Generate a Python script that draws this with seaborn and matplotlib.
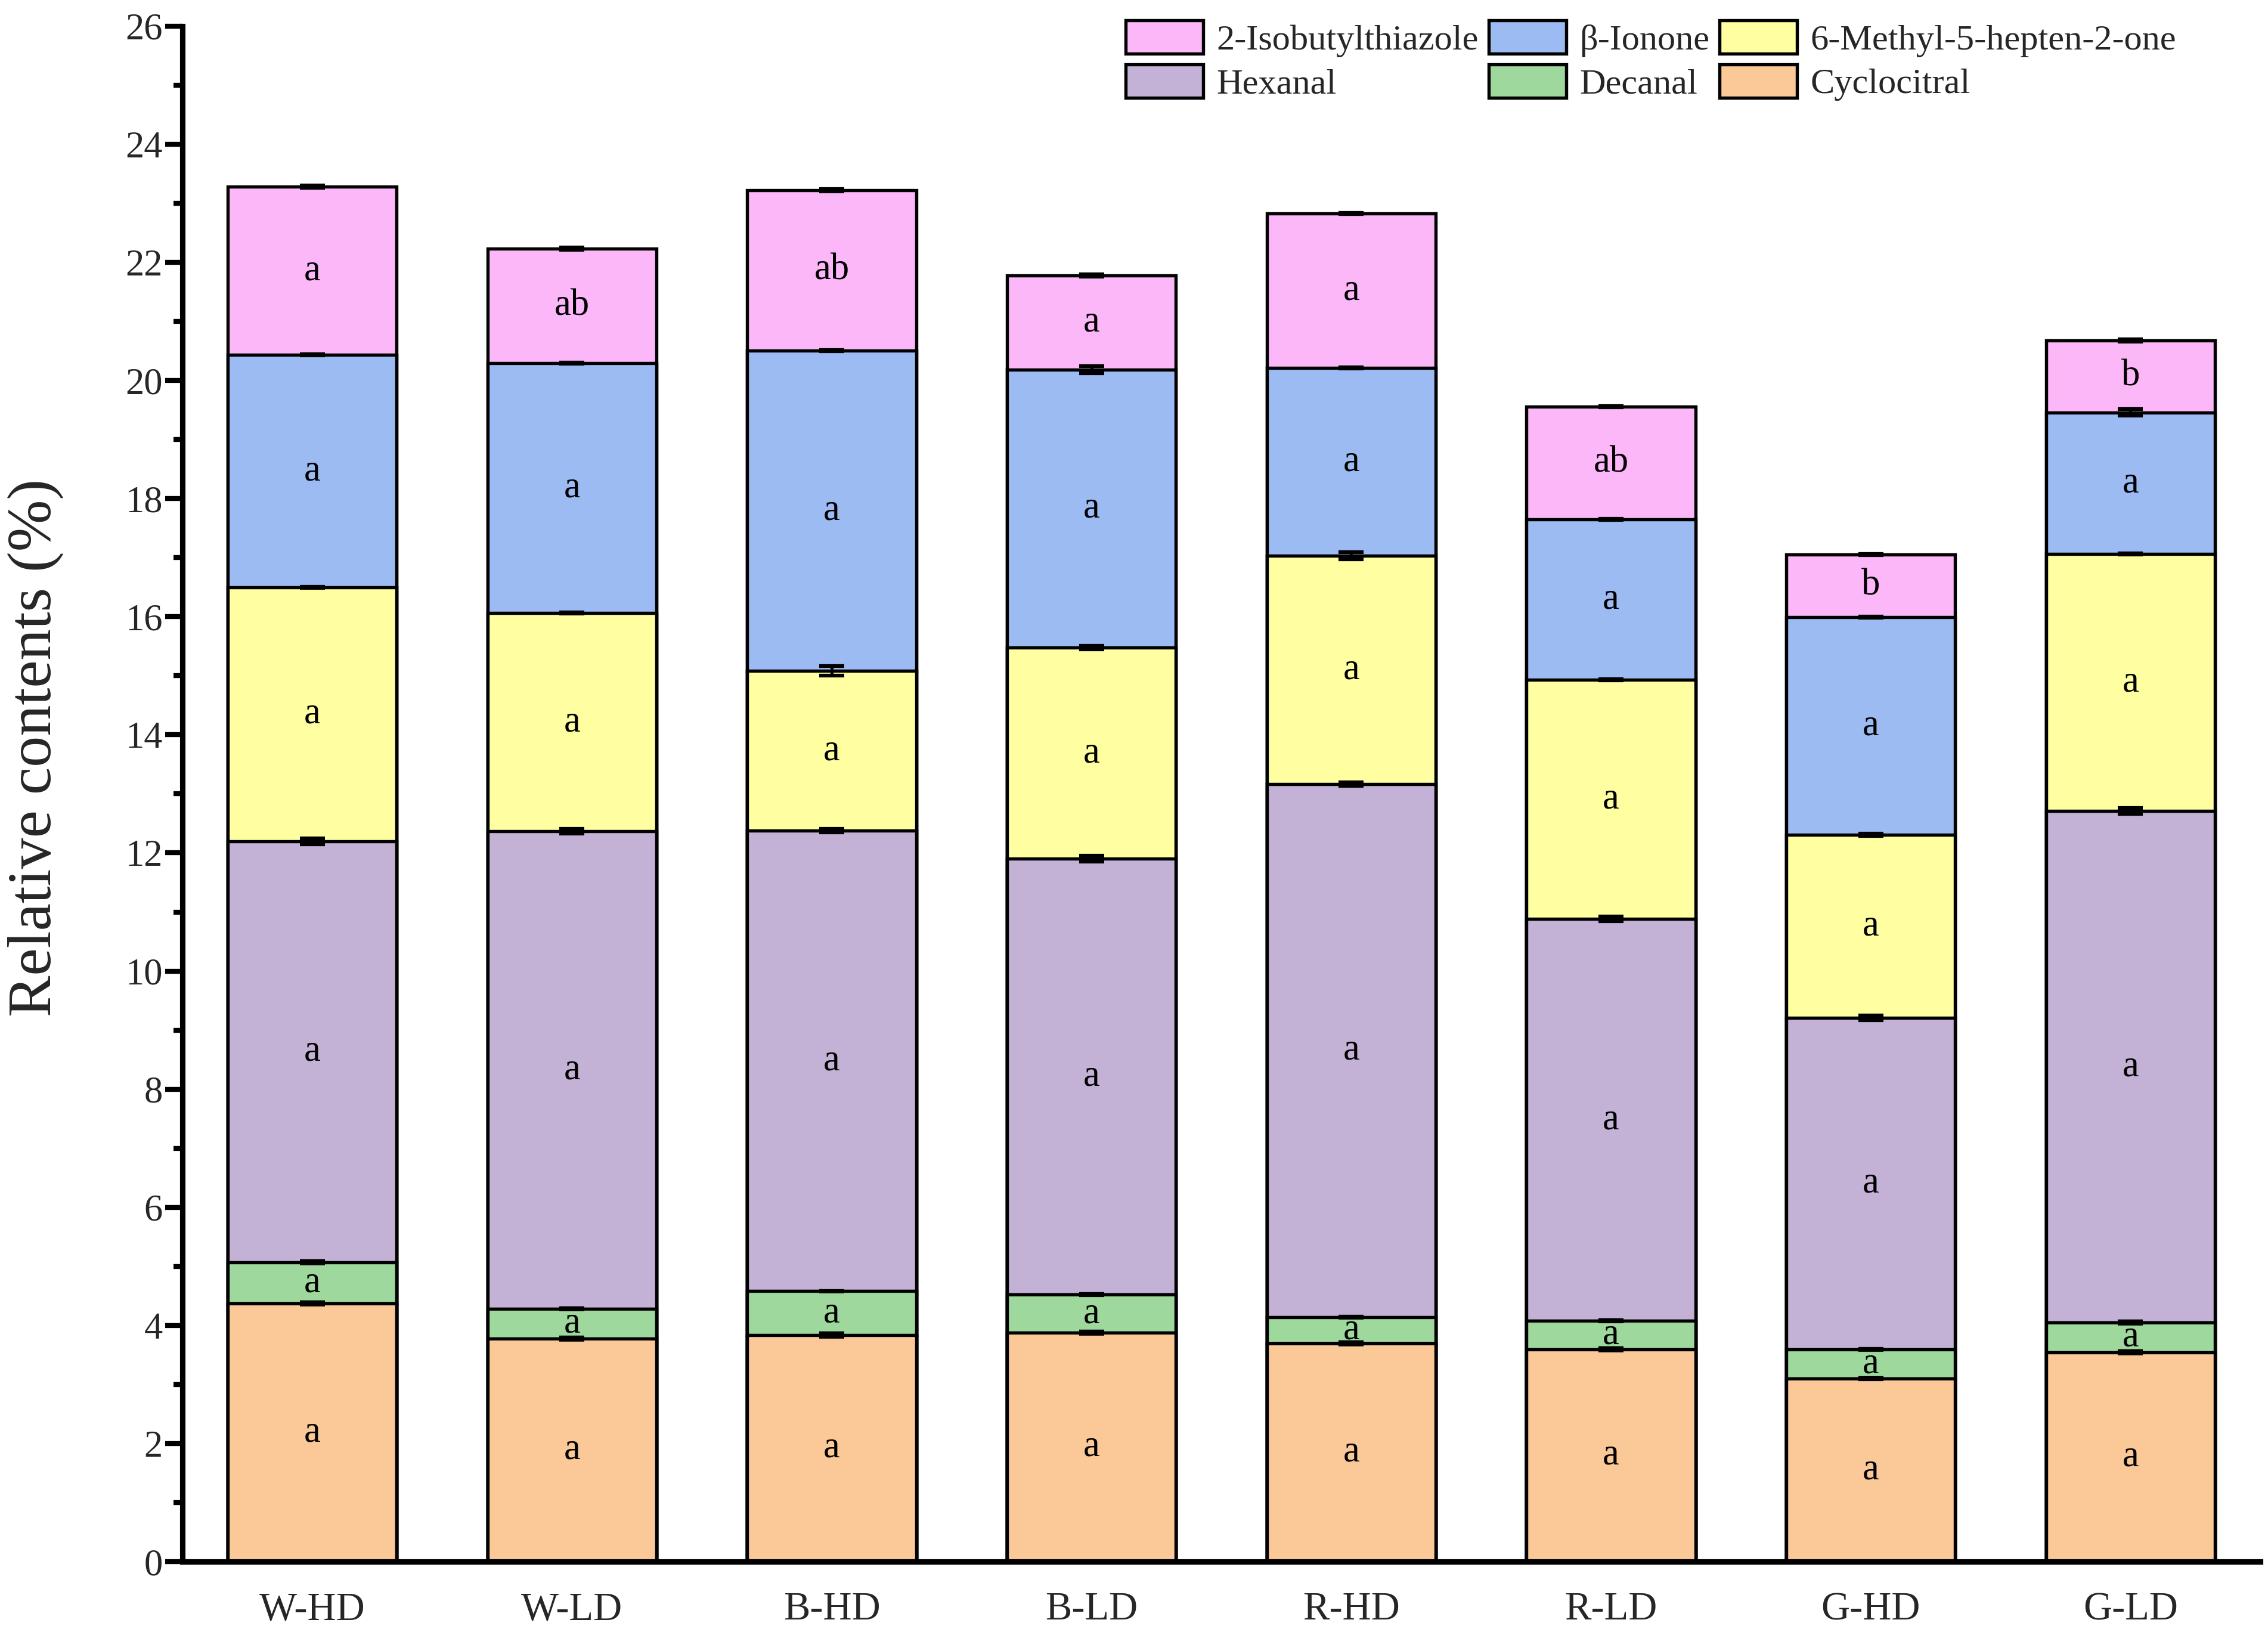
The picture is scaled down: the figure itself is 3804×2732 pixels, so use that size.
import numpy as np
import pandas as pd
import matplotlib
matplotlib.use("Agg")
import matplotlib.pyplot as plt
from matplotlib.patches import Patch
from matplotlib.ticker import MultipleLocator
import seaborn as sns

samples = ["W-HD", "W-LD", "B-HD", "B-LD", "R-HD", "R-LD", "G-HD", "G-LD"]

# segment values (stack order bottom -> top)
cyclocitral = [4.37, 3.78, 3.84, 3.88, 3.70, 3.60, 3.10, 3.55]
decanal = [0.70, 0.50, 0.74, 0.64, 0.44, 0.48, 0.50, 0.50]
hexanal = [7.13, 8.09, 7.80, 7.38, 9.03, 6.80, 5.61, 8.66]
methylheptenone = [4.30, 3.69, 2.70, 3.58, 3.86, 4.05, 3.10, 4.35]
ionone = [3.93, 4.23, 5.43, 4.70, 3.18, 2.72, 3.68, 2.40]
isobutylthiazole = [2.85, 1.94, 2.71, 1.60, 2.62, 1.91, 1.06, 1.22]

# error values
err_cyclocitral = [0.02, 0.02, 0.03, 0.02, 0.02, 0.02, 0.01, 0.02]
err_decanal = [0.02, 0.01, 0.01, 0.01, 0.01, 0.01, 0.01, 0.02]
err_hexanal = [0.05, 0.04, 0.03, 0.05, 0.03, 0.04, 0.04, 0.05]
err_methylheptenone = [0.01, 0.01, 0.08, 0.03, 0.06, 0.01, 0.02, 0.01]
err_ionone = [0.01, 0.01, 0.01, 0.06, 0.01, 0.01, 0.01, 0.06]
err_isobutylthiazole = [0.02, 0.02, 0.02, 0.02, 0.01, 0.01, 0.01, 0.02]

# significance letters
let_cyclocitral = ["a"] * 8
let_decanal = ["a"] * 8
let_hexanal = ["a"] * 8
let_methylheptenone = ["a"] * 8
let_ionone = ["a"] * 8
let_isobutylthiazole = ["a", "ab", "ab", "a", "a", "ab", "b", "b"]

names = ["Cyclocitral", "Decanal", "Hexanal", "6-Methyl-5-hepten-2-one",
         "\u03b2-Ionone", "2-Isobutylthiazole"]
colors = ["#FBC898", "#9ED89C", "#C3B2D6", "#FFFFA2", "#9DBBF3", "#FCB7F8"]

segs = [cyclocitral, decanal, hexanal, methylheptenone, ionone, isobutylthiazole]
errs = [err_cyclocitral, err_decanal, err_hexanal, err_methylheptenone,
        err_ionone, err_isobutylthiazole]
lets = [let_cyclocitral, let_decanal, let_hexanal, let_methylheptenone,
        let_ionone, let_isobutylthiazole]

sns.set_theme(style="ticks")
plt.rcParams["font.family"] = ["Liberation Serif", "DejaVu Serif"]

fig = plt.figure(figsize=(3804 / 300, 2732 / 300), dpi=300)
ax = fig.add_axes([0.0804, 0.0413, 0.9162, 0.9427])

cum = np.cumsum(np.array(segs), axis=0)
df = pd.DataFrame({"sample": samples})
for i, n in enumerate(names):
    df[n] = cum[i]

# draw from top layer (largest cumulative) down
for i in range(len(names) - 1, -1, -1):
    sns.barplot(data=df, x="sample", y=names[i], order=samples, color=colors[i],
                saturation=1, width=0.65, edgecolor="black", linewidth=1.3,
                errorbar=None, ax=ax, zorder=2 + (5 - i) * 0.01)

xs = np.arange(len(samples))
for i in range(len(names)):
    ax.errorbar(xs, cum[i], yerr=errs[i], fmt="none", ecolor="black",
                elinewidth=1.2, capsize=5, capthick=1.5, zorder=10)
    bottoms = cum[i] - np.array(segs[i])
    for j in range(len(samples)):
        ax.text(xs[j], bottoms[j] + segs[i][j] / 2, lets[i][j], ha="center",
                va="center", fontsize=15, color="black", zorder=11)

ax.set_xlim(-0.5, 7.5)
ax.set_ylim(0, 26)
ax.set_yticks(np.arange(0, 27, 2))
ax.yaxis.set_minor_locator(MultipleLocator(1))
ax.set_xlabel("")
ax.set_ylabel("Relative contents (%)", fontsize=25)
ax.yaxis.set_label_coords(-0.057, 0.53)

sns.despine(ax=ax)
for s in ["left", "bottom"]:
    ax.spines[s].set_linewidth(2.2)
    ax.spines[s].set_color("black")
ax.tick_params(axis="y", which="major", length=7, width=2, direction="out",
               labelsize=15, pad=1, color="black")
ax.tick_params(axis="y", which="minor", length=3.5, width=2, direction="out",
               color="black")
ax.tick_params(axis="x", length=0, labelsize=16, pad=12)

handles = []
order = [5, 2, 4, 1, 3, 0]
for k in order:
    handles.append(Patch(facecolor=colors[k], edgecolor="black", linewidth=1.3,
                         label=names[k]))
fig.legend(handles=handles, ncol=3, loc="upper right",
           bbox_to_anchor=(0.9595, 0.9876), bbox_transform=fig.transFigure,
           frameon=False, fontsize=14.5, handlelength=2.15, handleheight=1.05,
           handletextpad=0.37, columnspacing=0.28, labelspacing=0.2,
           borderpad=0, borderaxespad=0)

fig.savefig("out.png", dpi=300)
